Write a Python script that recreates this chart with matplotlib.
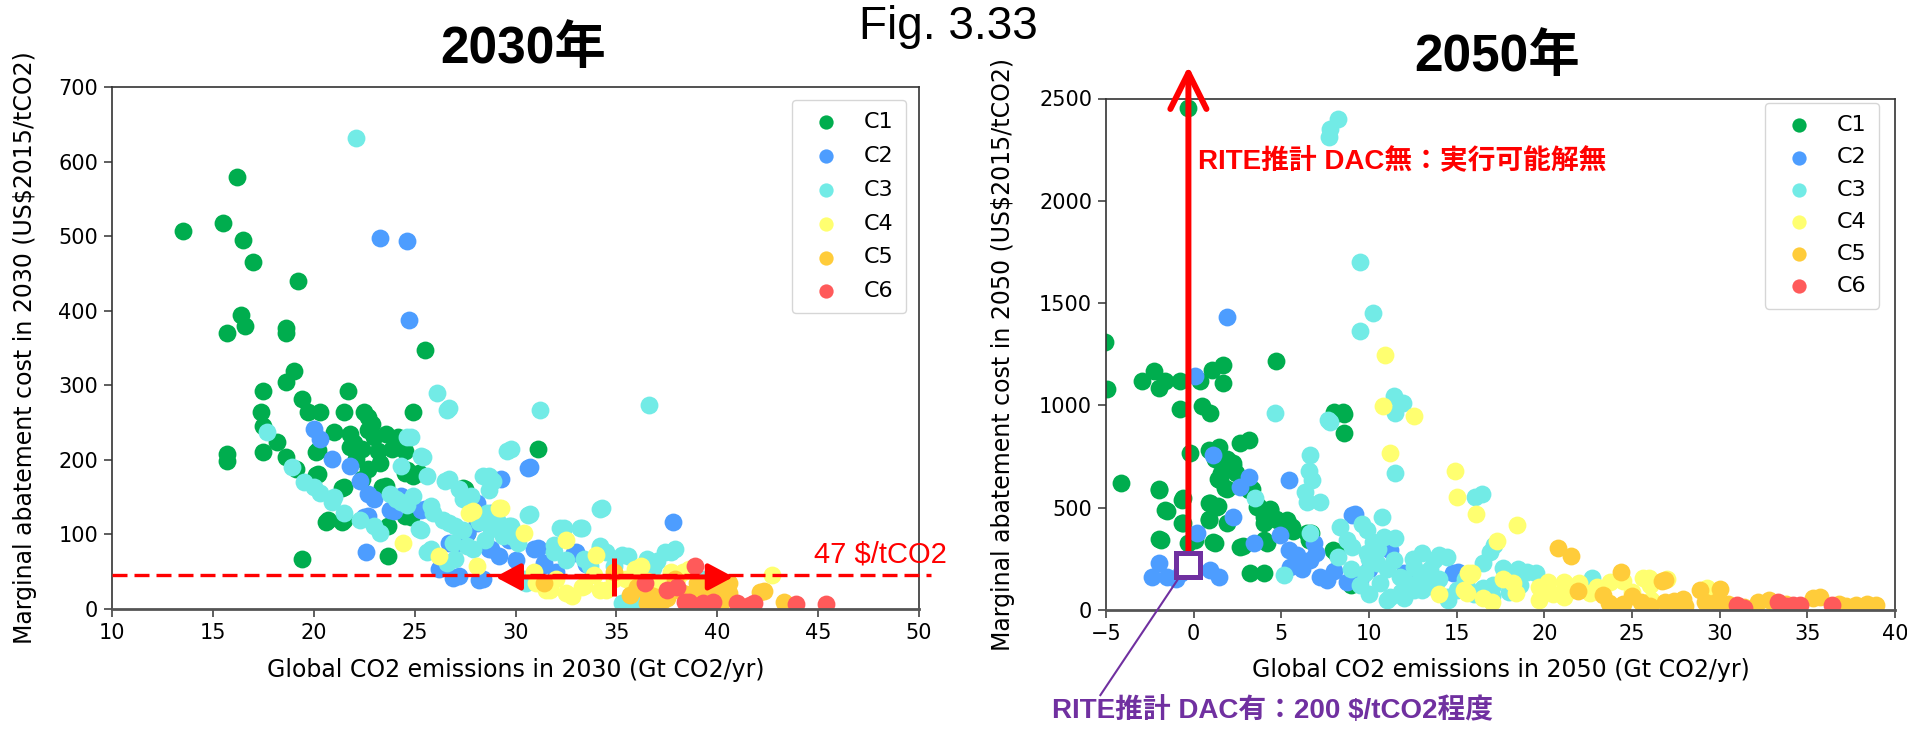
import matplotlib
matplotlib.use('Agg')
import matplotlib.pyplot as plt

# ---- data (x = Gt CO2/yr, y = US$/tCO2) ----
categories = ['C1', 'C2', 'C3', 'C4', 'C5', 'C6']
colors = ['#00ad4e', '#4d9dff', '#72ebe6', '#ffff70', '#ffcc3a', '#ff5a5a']

c1_2030 = [(13.5, 507), (15.5, 518), (16.2, 579), (16.5, 495), (17.0, 465), (19.2, 440), (16.4, 394),
           (16.6, 379), (15.7, 370), (18.6, 377), (18.6, 370), (25.5, 347), (19.0, 319), (18.6, 304),
           (17.5, 293), (21.7, 293), (19.4, 282), (17.4, 264), (17.5, 246), (18.2, 224), (17.5, 210),
           (18.6, 204), (15.7, 208), (15.7, 198), (19.1, 188), (19.7, 264), (20.3, 264), (20.2, 213),
           (20.2, 181), (21.5, 264), (22.5, 264), (22.7, 258), (21.8, 235), (22.7, 240), (23.6, 235),
           (21.8, 217), (22.4, 215), (23.2, 212), (23.9, 215), (24.5, 212), (22.1, 201), (22.7, 188),
           (22.4, 174), (24.9, 264), (24.5, 183), (25.2, 183), (23.6, 165), (21.5, 163), (27.5, 161),
           (24.7, 129), (24.5, 125), (20.7, 120), (21.5, 120), (23.7, 71), (19.4, 67), (31.1, 214),
           (27.6, 102), (23.7, 111), (24.6, 187), (24.9, 178), (23.4, 164), (21.4, 162), (20.1, 180),
           (20.1, 211), (27.4, 162), (24.8, 124), (23.0, 230), (22.0, 222), (24.2, 230), (23.3, 196),
           (22.9, 248), (21.0, 238), (20.6, 117), (21.4, 117)]
c2_2030 = [(23.3, 497), (24.6, 494), (24.7, 387), (20.0, 242), (20.3, 228), (20.9, 201), (21.8, 192),
           (22.3, 172), (22.7, 154), (23.0, 147), (24.0, 132), (24.3, 152), (25.5, 134), (22.7, 125),
           (22.6, 77), (27.0, 87), (28.1, 142), (29.3, 174), (30.7, 190), (28.8, 80), (26.2, 53),
           (27.2, 44), (28.4, 40), (31.1, 82), (31.4, 62), (33.0, 76), (37.8, 116), (28.8, 129),
           (30.9, 80), (32.9, 75), (31.4, 59), (26.7, 88), (27.6, 102), (28.1, 115), (28.7, 80),
           (29.2, 71), (29.7, 93), (26.9, 42), (28.2, 39), (25.3, 133), (27.9, 142), (23.8, 133),
           (22.5, 124), (30.6, 189), (33.5, 60), (30.0, 66), (32.0, 50)]
c3_2030 = [(22.1, 631), (26.1, 290), (36.6, 274), (17.7, 237), (18.9, 190), (20.0, 163), (20.3, 156),
           (20.9, 143), (21.5, 129), (22.3, 120), (23.0, 111), (23.3, 102), (24.3, 192), (24.8, 231),
           (25.4, 204), (25.6, 179), (26.7, 269), (26.7, 174), (27.2, 161), (27.8, 152), (28.7, 179),
           (28.9, 172), (29.8, 215), (31.2, 267), (30.7, 127), (32.4, 109), (33.3, 109), (34.3, 136),
           (23.8, 154), (24.3, 143), (24.6, 139), (25.8, 138), (26.4, 120), (27.0, 111), (28.2, 116),
           (28.8, 107), (29.4, 98), (30.1, 89), (29.1, 120), (29.8, 111), (28.5, 93), (27.6, 84),
           (27.0, 67), (25.8, 80), (25.2, 107), (31.9, 76), (33.4, 67), (34.2, 85), (34.5, 76),
           (35.6, 71), (36.5, 67), (37.4, 76), (37.9, 80), (34.9, 58), (36.8, 55), (35.9, 40),
           (33.7, 58), (30.4, 40), (35.3, 8), (35.9, 5), (39.2, 40), (29.6, 212), (30.6, 126),
           (34.2, 134), (32.2, 108), (33.2, 108), (31.9, 86), (34.2, 82), (35.3, 73), (37.0, 64),
           (37.7, 77), (32.5, 66), (30.5, 35), (36.0, 12), (25.3, 205), (26.6, 267), (26.5, 171),
           (27.4, 147), (28.4, 178), (28.7, 160), (24.1, 147), (24.9, 151), (25.3, 106), (25.9, 129),
           (26.7, 115), (26.9, 88), (27.4, 106), (27.9, 80), (28.6, 129), (29.1, 115), (29.7, 111),
           (29.9, 97), (25.6, 77), (26.6, 62), (24.6, 231), (19.5, 170), (21.0, 150)]
c4_2030 = [(24.4, 89), (26.2, 71), (28.1, 58), (29.3, 136), (27.9, 132), (30.4, 102), (32.5, 93),
           (32.8, 17), (31.7, 26), (33.4, 31), (34.9, 40), (35.9, 53), (37.7, 49), (38.6, 53),
           (42.7, 46), (31.0, 35), (34.5, 26), (33.9, 45), (36.0, 30), (37.2, 35), (31.5, 26),
           (32.5, 21), (33.3, 30), (34.2, 26), (34.0, 73), (36.2, 57), (38.3, 50), (35.5, 40),
           (36.5, 38), (38.0, 40), (29.2, 135), (27.7, 129), (30.9, 50), (32.0, 40)]
c5_2030 = [(35.7, 19), (36.8, 17), (37.5, 15), (38.3, 22), (39.5, 22), (40.6, 22), (42.3, 24),
           (43.3, 10), (36.5, 8), (37.0, 5), (38.8, 12), (40.2, 8), (34.9, 49), (31.4, 35),
           (36.5, 21), (37.3, 12), (37.8, 26), (38.8, 21), (40.0, 26), (40.6, 35), (42.1, 23),
           (39.0, 35), (37.9, 40), (36.0, 30)]
c6_2030 = [(38.9, 58), (37.5, 26), (38.6, 10), (39.8, 10), (41.0, 8), (41.8, 8), (43.9, 7), (45.4, 7),
           (38.4, 10), (39.3, 8), (41.6, 6), (36.4, 35), (38.0, 30)]

c1_2050 = [(-0.33, 2456), (-5.07, 1310), (-4.93, 1080), (-2.95, 1117), (-2.28, 1166), (-2.0, 1085),
           (-1.62, 1117), (-0.8, 1117), (0.38, 1117), (1.04, 1174), (1.67, 1199), (1.67, 1109),
           (4.7, 1216), (-0.76, 982), (0.47, 995), (0.95, 965), (-4.13, 623), (-1.96, 590),
           (-1.54, 483), (-0.59, 549), (-0.59, 426), (-1.89, 344), (-0.33, 328), (-0.22, 767),
           (0.85, 783), (1.42, 799), (2.66, 816), (3.13, 832), (1.23, 738), (1.92, 738), (2.27, 705),
           (1.57, 672), (2.44, 672), (1.40, 639), (1.92, 590), (0.88, 524), (1.40, 508), (0.88, 443),
           (1.92, 426), (1.23, 328), (0.09, 343), (2.79, 311), (3.23, 180), (3.99, 180), (3.30, 590),
           (3.65, 508), (4.0, 475), (4.34, 492), (4.69, 443), (5.38, 426), (4.0, 426), (4.17, 328),
           (5.66, 385), (6.7, 377), (7.98, 967), (8.5, 967), (8.07, 957), (8.55, 957), (8.6, 865),
           (9.0, 122), (6.6, 344), (8.1, 279), (7.97, 294), (-2.0, 587), (-1.62, 489), (-2.0, 346),
           (-0.67, 538), (-0.67, 424), (1.90, 701), (2.27, 718), (1.51, 636), (1.80, 595), (0.95, 522),
           (1.33, 505), (0.85, 440), (1.13, 334), (2.66, 310), (3.13, 587), (3.61, 505), (3.99, 456),
           (4.37, 489), (4.75, 440), (5.32, 440), (5.61, 408), (3.99, 343), (6.46, 375)]
c2_2050 = [(1.90, 1432), (0.09, 1142), (-2.0, 228), (-2.38, 163), (-1.52, 163), (-0.7, 180), (0.95, 196),
           (1.42, 163), (0.19, 375), (1.13, 758), (3.13, 652), (2.66, 603), (2.27, 456), (3.42, 326),
           (4.94, 367), (5.41, 636), (5.41, 293), (5.51, 212), (6.65, 245), (6.84, 326), (7.22, 163),
           (7.6, 147), (9.03, 465), (8.74, 139), (9.5, 147), (11.2, 294), (14.8, 180), (15.07, 188),
           (9.19, 467), (5.9, 270), (6.2, 200), (7.0, 280), (8.0, 190), (10.0, 200), (12.0, 180),
           (-1.0, 150)]
c3_2050 = [(9.5, 1699), (10.22, 1452), (9.46, 1362), (7.8, 2349), (8.22, 2401), (7.73, 2313),
           (11.44, 1044), (11.93, 1014), (11.49, 962), (4.64, 962), (7.66, 930), (7.79, 921),
           (3.51, 547), (6.61, 758), (6.55, 677), (6.74, 636), (6.36, 579), (6.46, 530), (7.22, 530),
           (6.65, 375), (8.36, 408), (8.74, 343), (9.88, 391), (10.74, 456), (10.83, 359), (8.26, 261),
           (9.03, 310), (9.88, 277), (10.45, 228), (11.4, 245), (11.78, 163), (12.54, 212),
           (12.92, 147), (13.68, 245), (14.44, 261), (13.68, 114), (14.44, 65), (11.2, 65),
           (12.54, 98), (5.13, 171), (16.05, 554), (11.5, 668), (16.45, 565), (17.15, 320),
           (16.9, 285), (16.5, 232), (17.67, 204), (18.5, 199), (19.0, 187), (22.7, 157),
           (15.6, 114), (16.5, 106), (17.1, 122), (10.0, 250), (10.5, 300), (11.0, 200), (11.5, 350),
           (12.0, 150), (12.5, 250), (13.0, 100), (13.5, 200), (14.0, 150), (14.5, 50), (15.0, 100),
           (16.0, 80), (17.0, 70), (18.0, 90), (12.0, 60), (11.0, 50), (10.0, 80), (9.5, 120),
           (13.0, 280), (14.0, 270), (12.5, 110), (11.8, 90), (9.0, 200), (9.6, 420), (10.2, 330),
           (13.2, 170), (15.5, 150), (18.6, 120), (19.5, 180), (9.8, 180), (10.6, 130)]
c4_2050 = [(10.9, 1248), (10.79, 998), (12.54, 946), (11.2, 768), (14.9, 678), (15.0, 550), (16.1, 471),
           (15.67, 180), (15.4, 98), (18.45, 417), (17.3, 336), (15.9, 180), (25.97, 156), (15.77, 171),
           (17.67, 150), (18.2, 130), (15.6, 83), (18.4, 83), (19.67, 114), (19.67, 49), (20.2, 137),
           (21.1, 137), (21.1, 65), (22.6, 81), (23.75, 138), (25.6, 155), (26.0, 122), (27.0, 150),
           (26.1, 50), (29.27, 106), (20.5, 80), (21.5, 100), (22.0, 130), (23.0, 110), (24.5, 140),
           (25.0, 90), (17.0, 40), (16.5, 60), (14.0, 80)]
c5_2050 = [(20.77, 302), (21.5, 264), (24.4, 188), (26.9, 147), (21.9, 93), (23.37, 73), (23.66, 33),
           (24.5, 30), (25.0, 70), (25.5, 40), (26.7, 142), (26.9, 38), (27.4, 45), (27.9, 53),
           (28.9, 98), (29.17, 40), (30.0, 103), (29.8, 40), (31.4, 16), (32.2, 41), (32.8, 49),
           (35.3, 57), (35.7, 65), (37.2, 20), (37.8, 25), (38.4, 30), (38.9, 25), (28.0, 20),
           (30.5, 30), (33.8, 30), (36.8, 28), (24.0, 15), (26.0, 20)]
c6_2050 = [(31.0, 24), (33.3, 41), (34.2, 24), (34.6, 24), (36.4, 22), (31.4, 10), (33.8, 20)]

data_2030 = [c1_2030, c2_2030, c3_2030, c4_2030, c5_2030, c6_2030]
data_2050 = [c1_2050, c2_2050, c3_2050, c4_2050, c5_2050, c6_2050]

cjk = ['Liberation Sans', 'Noto Sans CJK JP']
W, H = 1907, 731
fig = plt.figure(figsize=(W / 100, H / 100), dpi=100)
ax1 = fig.add_axes([112 / W, 1 - 609 / H, 807 / W, 522 / H])
ax2 = fig.add_axes([1106 / W, 1 - 610 / H, 789 / W, 511.5 / H])

def style_axes(ax):
    for side in ['top', 'right', 'left']:
        ax.spines[side].set_color('#333333')
        ax.spines[side].set_linewidth(1.2)
    ax.spines['bottom'].set_color('#555555')
    ax.spines['bottom'].set_linewidth(2.0)
    ax.tick_params(labelsize=15, length=6, width=1.1, color='#333333', pad=4)

for ax, groups in [(ax1, data_2030), (ax2, data_2050)]:
    for pts, lab, col in zip(groups, categories, colors):
        xs = [p[0] for p in pts]
        ys = [p[1] for p in pts]
        ax.scatter(xs, ys, s=165, c=col, label=lab, linewidths=0)
    style_axes(ax)

# ---- 2030 panel ----
ax1.set_xlim(10, 50)
ax1.set_ylim(0, 700)
ax1.set_xticks(range(10, 51, 5))
ax1.set_yticks(range(0, 701, 100))
ax1.set_xlabel('Global CO2 emissions in 2030 (Gt CO2/yr)', fontsize=17)
ax1.set_ylabel('Marginal abatement cost in 2030 (US$2015/tCO2)', fontsize=17)
ax1.xaxis.set_label_coords(0.5, -0.093)
ax1.yaxis.set_label_coords(-0.093, 0.5)
ax1.legend(loc='upper right', bbox_to_anchor=(906 / W, 1 - 100 / H), bbox_transform=fig.transFigure,
           fontsize=16, labelspacing=0.62, borderpad=0.55, markerscale=0.8, borderaxespad=0,
           handletextpad=0.7)

ax1.plot([10, 50.6], [46, 46], color='red', lw=2.4, dashes=(4.5, 2.1), clip_on=False, zorder=4)
ax1.text(44.8, 62, '47 $/tCO2', color='red', fontsize=21, family='Liberation Sans', zorder=5)
ax1.annotate('', xy=(29.0, 43), xytext=(40.8, 43),
             arrowprops=dict(arrowstyle='<|-|>,head_length=1.5,head_width=0.8', color='red', lw=3.6,
                             mutation_scale=10, shrinkA=0, shrinkB=0), zorder=5)
ax1.plot([34.9, 34.9], [17, 68], color='red', lw=3.6, solid_capstyle='butt', zorder=5)

# ---- 2050 panel ----
ax2.set_xlim(-5, 40)
ax2.set_ylim(0, 2500)
ax2.set_xticks(range(-5, 41, 5))
ax2.set_yticks(range(0, 2501, 500))
ax2.set_xlabel('Global CO2 emissions in 2050 (Gt CO2/yr)', fontsize=17)
ax2.set_ylabel('Marginal abatement cost in 2050 (US$2015/tCO2)', fontsize=17)
ax2.xaxis.set_label_coords(0.5, -0.094)
ax2.yaxis.set_label_coords(-0.115, 0.5)
ax2.legend(loc='upper right', bbox_to_anchor=(1879 / W, 1 - 103 / H), bbox_transform=fig.transFigure,
           fontsize=16, labelspacing=0.55, borderpad=0.55, markerscale=0.8, borderaxespad=0,
           handletextpad=0.7)

ax2.annotate('', xy=(-0.3, 2658), xytext=(-0.3, 285),
             arrowprops=dict(arrowstyle='->,head_length=2.6,head_width=1.3', color='red', lw=4.3,
                             mutation_scale=10, shrinkA=0, shrinkB=0),
             annotation_clip=False, zorder=5)
ax2.plot([-0.9, -5.32], [150, -416], color='#7030a0', lw=1.5, clip_on=False, zorder=5)
ax2.plot([-0.33], [222], marker='s', ms=17.3, mfc='white', mec='#7030a0', mew=3.6,
         clip_on=False, zorder=6)
ax2.text(0.26, 2192, 'RITE推計 DAC無：実行可能解無', color='red', fontsize=20, fontweight='bold',
         va='center', family=cjk, zorder=6)

# ---- titles ----
fig.text(523 / W, 1 - 49 / H, '2030年', fontsize=37, fontweight='bold', ha='center', va='center', family=cjk)
fig.text(1497 / W, 1 - 57 / H, '2050年', fontsize=37, fontweight='bold', ha='center', va='center', family=cjk)
fig.text(948 / W, 1 - 27 / H, 'Fig. 3.33', fontsize=33, ha='center', va='center', family='Liberation Sans')
fig.text(1052 / W, 1 - 711 / H, 'RITE推計 DAC有：200 $/tCO2程度', color='#7030a0', fontsize=20,
         fontweight='bold', va='center', family=cjk)

fig.savefig('out.png', dpi=100)
